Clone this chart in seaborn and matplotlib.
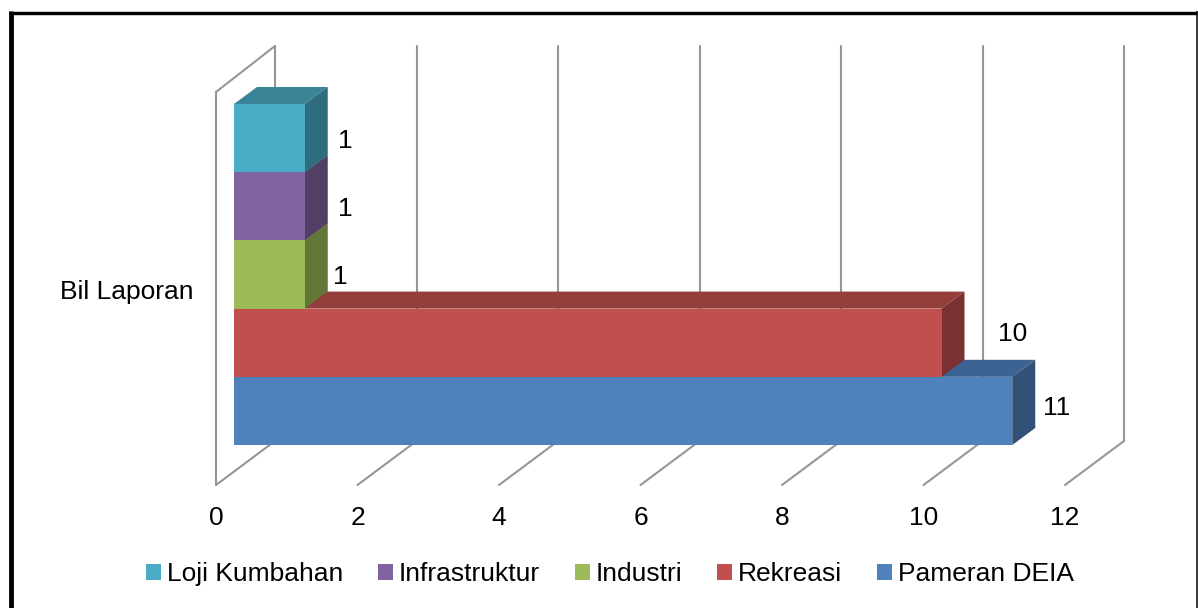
import matplotlib
matplotlib.use("Agg")
import matplotlib.pyplot as plt
import matplotlib.transforms as mtrans
from matplotlib.lines import Line2D
from matplotlib.patches import Polygon
import numpy as np
import pandas as pd
import seaborn as sns

# ── Data ──────────────────────────────────────────────────────────────────────
category = "Bil Laporan"
series = ["Loji Kumbahan", "Infrastruktur", "Industri", "Rekreasi", "Pameran DEIA"]
values = [1, 1, 1, 10, 11]
colors = ["#4BACC6", "#8064A2", "#9BBB59", "#C0504D", "#4F81BD"]
x_ticks = [0, 2, 4, 6, 8, 10, 12]

# value label nudges from the bar end, in pixels
label_dx = [41, 41, 36, 71, 44]
label_dy = [3, 3, 3, -9, -3]

# ── Layout (pixels of the 1198x608 canvas) ────────────────────────────────────
W, H = 1198, 608
PX_X = 70.75           # px per unit on x
PX_Y = 341 / 0.8       # px per category unit
AX_L, AX_R = 234, 234 + 12 * PX_X
AX_T, AX_B = 30, 485
CENTER_Y = 274.5       # px row of the category centre

DEPTH_X, DEPTH_Y = 23 / PX_X, 17 / PX_Y   # bar depth
WALL_F, WALL_B = -18 / PX_X, 41 / PX_X    # front / back of the floor
FLOOR_FRONT, FLOOR_BACK = (485 - CENTER_Y) / PX_Y, (441 - CENTER_Y) / PX_Y
TOP_FRONT, TOP_BACK = (92 - CENTER_Y) / PX_Y, (46 - CENTER_Y) / PX_Y

sns.set_theme(style="white")
plt.rcParams["font.family"] = ["Liberation Sans", "DejaVu Sans"]

fig = plt.figure(figsize=(W / 100, H / 100), dpi=100, facecolor="white")
ax = fig.add_axes([AX_L / W, 1 - AX_B / H, (AX_R - AX_L) / W, (AX_B - AX_T) / H])

df = pd.DataFrame({"kategori": [category] * len(series), "jenis": series, "bil": values})
sns.barplot(data=df, y="kategori", x="bil", hue="jenis", hue_order=series,
            palette=colors, saturation=1, width=0.8, ax=ax, gap=0, linewidth=0)

ax.set_xlim(0, 12)
ax.set_ylim((AX_B - CENTER_Y) / PX_Y, (AX_T - CENTER_Y) / PX_Y)
ax.set_xlabel("")
ax.set_ylabel("")
sns.despine(ax=ax, left=True, bottom=True)
ax.patch.set_visible(False)

# ── Walls and floor lines ─────────────────────────────────────────────────────
grid = "#969696"
for t in x_ticks:
    ax.plot([t + WALL_F, t + WALL_B], [FLOOR_FRONT, FLOOR_BACK], color=grid, lw=1.5,
            clip_on=False, zorder=1, solid_capstyle="round")
    ax.plot([t + WALL_B, t + WALL_B], [FLOOR_BACK, TOP_BACK], color=grid, lw=1.5,
            clip_on=False, zorder=1)
ax.plot([WALL_F, WALL_F], [FLOOR_FRONT, TOP_FRONT], color=grid, lw=1.5, clip_on=False, zorder=1)
ax.plot([WALL_F, WALL_B], [TOP_FRONT, TOP_BACK], color=grid, lw=1.5, clip_on=False, zorder=1,
        solid_capstyle="round")


def shade(color, k):
    r, g, b = matplotlib.colors.to_rgb(color)
    return (r * k, g * k, b * k)


# ── 3D faces, lowest bar first so upper bars sit over it ──────────────────────
for i, (bar, col) in enumerate(zip(ax.patches, colors)):
    x0 = bar.get_x()
    x1 = x0 + bar.get_width()
    y_top = bar.get_y()
    y_bot = y_top + bar.get_height()
    z = 3 + (len(series) - i)
    bar.set_zorder(z + 0.5)
    top = [(x0, y_top), (x1, y_top), (x1 + DEPTH_X, y_top - DEPTH_Y), (x0 + DEPTH_X, y_top - DEPTH_Y)]
    side = [(x1, y_top), (x1 + DEPTH_X, y_top - DEPTH_Y), (x1 + DEPTH_X, y_bot - DEPTH_Y), (x1, y_bot)]
    ax.add_patch(Polygon(top, closed=True, fc=shade(col, 0.77), ec="none", zorder=z, clip_on=False))
    ax.add_patch(Polygon(side, closed=True, fc=shade(col, 0.63), ec="none", zorder=z, clip_on=False))

    # value label
    ax.annotate(str(values[i]), (x1, (y_top + y_bot) / 2), xytext=(label_dx[i] * 0.72, -label_dy[i] * 0.72),
                textcoords="offset points", ha="center", va="center", fontsize=19,
                color="black", zorder=20)

# ── Axis labels ───────────────────────────────────────────────────────────────
ax.set_xticks(x_ticks)
ax.set_xticklabels([str(t) for t in x_ticks])
ax.tick_params(axis="x", length=0, pad=15, labelsize=19, labelcolor="black")
ax.tick_params(axis="y", length=0, pad=29.5, labelsize=19, labelcolor="black")
for lab in ax.get_xticklabels():
    lab.set_transform(lab.get_transform() + mtrans.ScaledTranslation(-18 / 100, 0, fig.dpi_scale_trans))
for lab in ax.get_yticklabels():
    lab.set_transform(lab.get_transform() + mtrans.ScaledTranslation(0, -15 / 100, fig.dpi_scale_trans))

# ── Legend ────────────────────────────────────────────────────────────────────
sns.move_legend(ax, "center", bbox_to_anchor=(610 / W, 1 - 574 / H), bbox_transform=fig.transFigure,
                ncol=5, title=None, frameon=False, fontsize=19, handlelength=0.55, handleheight=0.55,
                handletextpad=0.23, columnspacing=1.33, borderpad=0, labelcolor="black")

# ── Outer frame (cut off at the bottom) ───────────────────────────────────────
frame = [((11, 11), (11, H), 4.8), ((9, 1197), (13, 13), 3.4), ((1196.5, 1196.5), (11, H), 1.5)]
for xs, ys, px in frame:
    fig.add_artist(Line2D([xs[0] / W, xs[1] / W], [1 - ys[0] / H, 1 - ys[1] / H],
                          color="black", lw=px * 0.72, solid_capstyle="butt"))

fig.savefig("out.png", dpi=100)
